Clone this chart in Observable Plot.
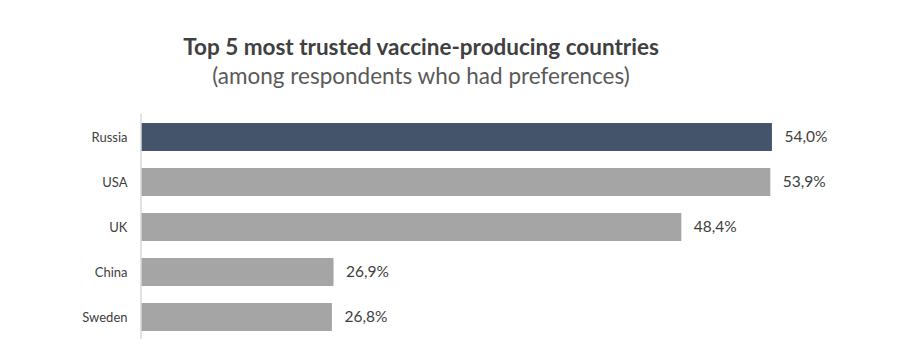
<!DOCTYPE html>
<html>
<head>
<meta charset="utf-8">
<script src="https://cdn.jsdelivr.net/npm/d3@7"></script>
<script src="https://cdn.jsdelivr.net/npm/@observablehq/plot@0.6"></script>
<style>
  html, body { margin: 0; padding: 0; background: #fff; }
  #wrap { position: relative; width: 899px; height: 359px; overflow: hidden; font-family: Lato, "Open Sans", sans-serif; }
  #head { position: relative; width: 899px; height: 100px; }
  #title { position: absolute; left: 0; width: 842px; top: 35px; text-align: center; font-weight: bold; font-size: 22.5px; color: #404040; line-height: 24px; white-space: nowrap; }
  #subtitle { position: absolute; left: 0; width: 842px; top: 64px; text-align: center; font-size: 22.5px; color: #595959; line-height: 24px; white-space: nowrap; }
  svg { display: block; }
</style>
</head>
<body>
<div id="wrap">
  <div id="head">
    <div id="title">Top 5 most trusted vaccine-producing countries</div>
    <div id="subtitle">(among respondents who had preferences)</div>
  </div>
  <div id="chart"></div>
</div>
<script>
const countries = ["Russia", "USA", "UK", "China", "Sweden"];
const shares = [54.0, 53.9, 48.4, 26.9, 26.8];
const valueLabels = ["54,0%", "53,9%", "48,4%", "26,9%", "26,8%"];
const highlight = "Russia";

const data = countries.map((c, i) => ({country: c, value: shares[i], label: valueLabels[i]}));

const chart = Plot.plot({
  width: 899,
  height: 259,
  marginTop: 14,
  marginBottom: 20,
  marginLeft: 141,
  marginRight: 30,
  style: {fontFamily: "Lato, 'Open Sans', sans-serif", color: "#404040", background: "#fff"},
  x: {domain: [15, 60], axis: null},
  y: {domain: countries, paddingInner: 0.38, paddingOuter: 0.19, label: null, tickSize: 0, tickPadding: 14},
  marks: [
    Plot.axisY({tickSize: 0, tickPadding: 14, fontSize: 13, fill: "#404040", label: null}),
    Plot.barX(data, {x1: 15, x2: "value", y: "country", fill: d => d.country === highlight ? "#44546a" : "#a5a5a5"}),
    Plot.ruleX([15], {stroke: "#d9d9d9", strokeWidth: 1.5, dx: -0.5}),
    Plot.text(data, {x: "value", y: "country", text: "label", textAnchor: "start", dx: 12, fontSize: 15.5, fill: "#404040"})
  ]
});
document.getElementById("chart").appendChild(chart);
</script>
</body>
</html>
